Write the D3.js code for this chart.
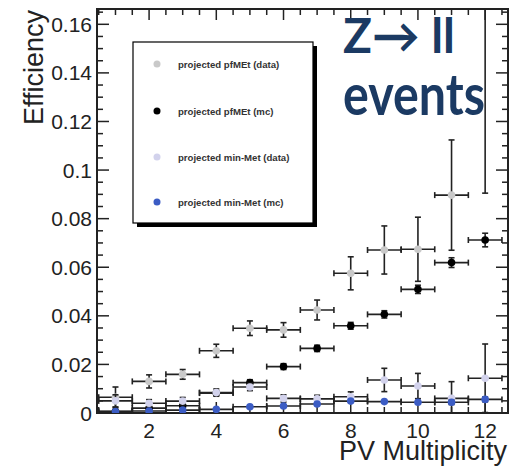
<!DOCTYPE html>
<html>
<head>
<meta charset="utf-8">
<script src="https://cdn.jsdelivr.net/npm/d3@7"></script>
<style>
  html, body { margin: 0; padding: 0; background: #fff; }
  svg { display: block; font-family: "Liberation Sans", Arial, sans-serif; }
</style>
</head>
<body>
<svg width="519" height="467"></svg>
<script>
// PV multiplicity bins
var pvBins = [1, 2, 3, 4, 5, 6, 7, 8, 9, 10, 11, 12];

// projected pfMEt (data)
var pfData    = [0.0065, 0.013, 0.0159, 0.0256, 0.0349, 0.0342, 0.0424, 0.0575, 0.0671, 0.0674, 0.0897, 0.19];
var pfDataErr = [0.0042, 0.0027, 0.002, 0.0027, 0.003, 0.003, 0.0041, 0.0068, 0.0099, 0.0132, 0.0227, 0.0995];
// projected pfMEt (mc)
var pfMc      = [0.0007, 0.002, 0.003, 0.0082, 0.0125, 0.0191, 0.0266, 0.0359, 0.0406, 0.0509, 0.0619, 0.0712];
var pfMcErr   = [0.0004, 0.0006, 0.0007, 0.001, 0.0012, 0.0012, 0.0013, 0.0014, 0.0015, 0.0017, 0.002, 0.0028];
// projected min-Met (data)
var minData    = [0.005, 0.004, 0.0049, 0.0084, 0.0107, 0.006, 0.0058, 0.0067, 0.0136, 0.0111, 0.006, 0.0143];
var minDataErr = [0.0025, 0.0015, 0.0015, 0.0015, 0.0015, 0.0015, 0.0015, 0.002, 0.0048, 0.0052, 0.0069, 0.0141];
// projected min-Met (mc)
var minMc    = [0.0006, 0.0008, 0.0012, 0.0015, 0.0026, 0.0029, 0.0037, 0.0049, 0.0047, 0.0044, 0.0044, 0.0056];
var minMcErr = [0.0004, 0.0004, 0.0005, 0.0005, 0.0006, 0.0006, 0.0007, 0.0008, 0.0008, 0.0008, 0.0009, 0.001];

var xTickVals = [2, 4, 6, 8, 10, 12];
var yTickVals = [0, 0.02, 0.04, 0.06, 0.08, 0.1, 0.12, 0.14, 0.16];
var yTickLabels = ['0', '0.02', '0.04', '0.06', '0.08', '0.1', '0.12', '0.14', '0.16'];

var legendLabels = ['projected pfMEt (data)', 'projected pfMEt (mc)', 'projected min-Met (data)', 'projected min-Met (mc)'];
var seriesColors = ['#c9c9c9', '#000000', '#d2d2ec', '#3b5cc4'];

var svg = d3.select('svg');
var frameL = 97, frameR = 508, frameT = 9, frameB = 413;

var x = d3.scaleLinear().domain([0.45, 12.68]).range([frameL, frameR]);
var y = d3.scaleLinear().domain([0, 0.1663]).range([frameB, frameT]);

svg.append('clipPath').attr('id', 'frame')
    .append('rect').attr('x', frameL).attr('y', frameT)
    .attr('width', frameR - frameL).attr('height', frameB - frameT);

var ink = '#222';

// axes: ticks inward on all four sides
var xMinor = d3.range(0.5, 12.51, 0.5);
var yMinor = d3.range(0, 0.1651, 0.005);

function isMajorX(v) { return Math.abs(v / 2 - Math.round(v / 2)) < 1e-6; }
function isMajorY(v) { return Math.abs(v / 0.02 - Math.round(v / 0.02)) < 1e-6; }

var ticks = svg.append('g').attr('stroke', ink).attr('stroke-width', 1.5);
xMinor.forEach(function (v) {
    var len = isMajorX(v) ? 11 : 6;
    ticks.append('line').attr('x1', x(v)).attr('x2', x(v)).attr('y1', frameB).attr('y2', frameB - len);
    ticks.append('line').attr('x1', x(v)).attr('x2', x(v)).attr('y1', frameT).attr('y2', frameT + len);
});
yMinor.forEach(function (v) {
    var len = isMajorY(v) ? 12 : 6;
    ticks.append('line').attr('x1', frameL).attr('x2', frameL + len).attr('y1', y(v)).attr('y2', y(v));
    ticks.append('line').attr('x1', frameR).attr('x2', frameR - len).attr('y1', y(v)).attr('y2', y(v));
});

svg.append('rect').attr('x', frameL).attr('y', frameT)
    .attr('width', frameR - frameL).attr('height', frameB - frameT)
    .attr('fill', 'none').attr('stroke', ink).attr('stroke-width', 2);

// tick labels
svg.append('g').selectAll('text').data(yTickVals).enter().append('text')
    .attr('x', 92).attr('y', function (d) { return y(d) + 7.5; })
    .attr('text-anchor', 'end').attr('font-size', 21).attr('fill', '#222')
    .text(function (d, i) { return yTickLabels[i]; });

svg.append('g').selectAll('text').data(xTickVals).enter().append('text')
    .attr('x', function (d) { return x(d); }).attr('y', 438)
    .attr('text-anchor', 'middle').attr('font-size', 21).attr('fill', '#222')
    .text(function (d) { return d; });

// axis titles
svg.append('text').attr('x', 507).attr('y', 460).attr('text-anchor', 'end')
    .attr('font-size', 27).attr('fill', '#222').text('PV Multiplicity');
svg.append('text').attr('transform', 'translate(43,10) rotate(-90)')
    .attr('text-anchor', 'end').attr('font-size', 27).attr('fill', '#222').text('Efficiency');

// legend
var lg = svg.append('g');
lg.append('rect').attr('x', 137).attr('y', 46).attr('width', 180).attr('height', 181).attr('fill', '#000');
lg.append('rect').attr('x', 133).attr('y', 42).attr('width', 180).attr('height', 181)
    .attr('fill', '#fff').attr('stroke', '#000').attr('stroke-width', 1.2);
var legendY = [64, 111, 157, 202];
legendLabels.forEach(function (lab, i) {
    lg.append('circle').attr('cx', 157).attr('cy', legendY[i]).attr('r', 3.5).attr('fill', seriesColors[i]);
    lg.append('text').attr('x', 178).attr('y', legendY[i] + 3.5)
        .attr('font-size', 9.6).attr('font-weight', 'bold').attr('fill', '#333').text(lab);
});

// series with error bars
var series = [
    { val: pfData, err: pfDataErr, color: seriesColors[0] },
    { val: pfMc, err: pfMcErr, color: seriesColors[1] },
    { val: minData, err: minDataErr, color: seriesColors[2] },
    { val: minMc, err: minMcErr, color: seriesColors[3] }
];

var plot = svg.append('g').attr('clip-path', 'url(#frame)');
var cap = 3;

series.forEach(function (s) {
    var g = plot.append('g');
    var pts = pvBins.map(function (b, i) { return { x: b, v: s.val[i], e: s.err[i] }; });
    var eb = g.append('g').attr('stroke', ink).attr('stroke-width', 1.6);
    pts.forEach(function (p) {
        var cx = x(p.x), cy = y(p.v);
        var x0 = x(p.x - 0.5), x1 = x(p.x + 0.5);
        var y0 = y(p.v - p.e), y1 = y(p.v + p.e);
        eb.append('line').attr('x1', x0).attr('x2', x1).attr('y1', cy).attr('y2', cy);
        eb.append('line').attr('x1', x0).attr('x2', x0).attr('y1', cy - cap).attr('y2', cy + cap);
        eb.append('line').attr('x1', x1).attr('x2', x1).attr('y1', cy - cap).attr('y2', cy + cap);
        if (y0 - y1 > 4) {
            eb.append('line').attr('x1', cx).attr('x2', cx).attr('y1', y0).attr('y2', y1);
            eb.append('line').attr('x1', cx - cap).attr('x2', cx + cap).attr('y1', y0).attr('y2', y0);
            eb.append('line').attr('x1', cx - cap).attr('x2', cx + cap).attr('y1', y1).attr('y2', y1);
        }
    });
    g.selectAll('circle').data(pts).enter().append('circle')
        .attr('cx', function (d) { return x(d.x); })
        .attr('cy', function (d) { return y(d.v); })
        .attr('r', 3.8)
        .attr('fill', s.color);
});

// annotation
var note = svg.append('g').attr('fill', '#1b3a63').attr('font-family', 'Lato, "Open Sans", sans-serif').attr('font-weight', 'bold');
note.append('text').attr('x', 343).attr('y', 53).attr('font-size', 48)
    .attr('textLength', 112).attr('lengthAdjust', 'spacingAndGlyphs').text('Z\u2192 ll');
note.append('text').attr('x', 343).attr('y', 115).attr('font-size', 58)
    .attr('textLength', 142).attr('lengthAdjust', 'spacingAndGlyphs').text('events');
</script>
</body>
</html>
